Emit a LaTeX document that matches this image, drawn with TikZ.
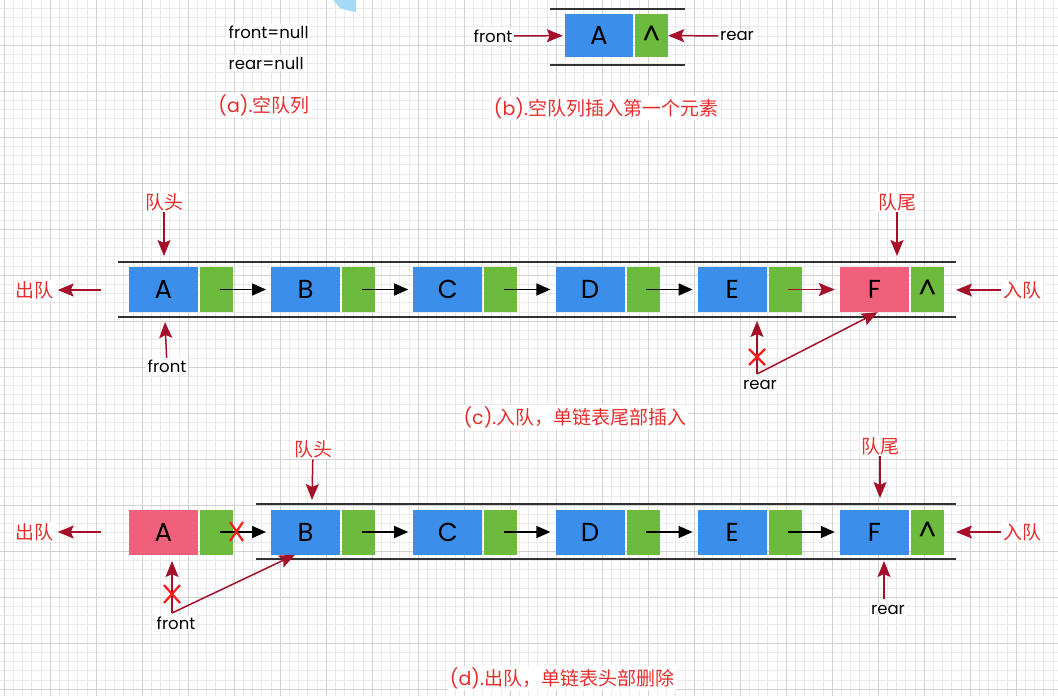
\documentclass[tikz,border=0pt]{standalone}
\usepackage{fontspec}
\setmainfont{Poppins}
\newfontfamily\lat{Poppins}
\newfontfamily\cjk{Noto Sans CJK SC}
\usetikzlibrary{arrows.meta,calc}
\definecolor{qblue}{RGB}{59,142,234}
\definecolor{qgreen}{RGB}{108,187,60}
\definecolor{qpink}{RGB}{240,96,122}
\definecolor{darrow}{RGB}{165,15,40}
\definecolor{tred}{RGB}{232,45,45}
\definecolor{xred}{RGB}{255,25,25}
\definecolor{gminor}{RGB}{234,234,234}
\definecolor{gmajor}{RGB}{210,210,210}
\definecolor{blob}{RGB}{165,218,245}
\definecolor{railc}{RGB}{50,50,50}
\begin{document}
\begin{tikzpicture}[x=1pt,y=-1pt,
 databox/.style={minimum width=69pt,minimum height=45pt,inner sep=0pt,fill=qblue,font=\fontsize{26}{26}\selectfont},
 ptrbox/.style={minimum width=33pt,minimum height=45pt,inner sep=0pt,fill=qgreen,font=\fontsize{28}{28}\selectfont},
 lbl/.style={inner sep=1.5pt,fill=white,font=\fontsize{16.5}{16.5}\selectfont},
 cn/.style={inner sep=1.5pt,fill=white,text=tred,font=\cjk\fontsize{19}{19}\selectfont},
 redarr/.style={draw=darrow,line width=1.5pt,-{Stealth[length=16pt,width=13pt,inset=3pt]}},
 blkarr/.style={draw=black,line width=1.4pt,-{Triangle[length=14pt,width=12pt]}},
 rail/.style={draw=railc,line width=1.7pt},
 xmark/.style={draw=xred,line width=2.2pt}]
\useasboundingbox (0,0) rectangle (1058,696);
\fill[white] (0,0) rectangle (1058,696);
% grid
\foreach \k in {0,...,114} {\pgfmathsetmacro\xx{4+9.2*\k}\draw[gminor,line width=0.6pt] (\xx,0) -- (\xx,696);}
\foreach \k in {1,...,75} {\pgfmathsetmacro\yy{-1+9.2*\k}\draw[gminor,line width=0.6pt] (0,\yy) -- (1058,\yy);}
\foreach \k in {0,...,22} {\pgfmathsetmacro\xx{4+46*\k}\draw[gmajor,line width=0.8pt] (\xx,0) -- (\xx,696);}
\foreach \k in {1,...,15} {\pgfmathsetmacro\yy{-1+46*\k}\draw[gmajor,line width=0.8pt] (0,\yy) -- (1058,\yy);}
\fill[blob] (333,0) -- (356,0) -- (356,12) -- (346,10) -- (340,8) -- cycle;

% (a)
\node[lbl,anchor=west] (fn) at (227,32) {front=null};
\node[lbl,anchor=west] (rn) at (227,63) {rear=null};
\node[cn] (capa) at (264,105) {{\lat (a).}空队列};

% (b)
\draw[rail] (550,9) -- (685,9);
\draw[rail] (550,65) -- (685,65);
\node[databox,minimum width=68pt,minimum height=43pt] (bA) at (599,35.5) {A};
\node[ptrbox,minimum height=43pt] (bP) at (651.5,35.5) {\^{}};
\node[lbl] (bfront) at (493,36) {front};
\node[lbl] (brear) at (737,36) {rear};
\draw[redarr,shorten >=2pt] (bfront) -- (bA);
\draw[redarr] (brear) -- (bP);
\node[cn] (capb) at (606,108) {{\lat (b).}空队列插入第一个元素};

% (c)
\draw[rail] (118,262) -- (956,262);
\draw[rail] (118,317) -- (956,317);
\foreach \i/\t in {1/A,2/B,3/C,4/D,5/E} {
  \node[databox] (c\i) at ({163.5+142.2*(\i-1)},289.5) {\t};
  \node[ptrbox] (cg\i) at ({216.5+142.2*(\i-1)},289.5) {};
}
\node[databox,fill=qpink] (c6) at (874.5,289.5) {F};
\node[ptrbox] (cg6) at (927.5,289.5) {\^{}};
\foreach \i/\j in {1/2,2/3,3/4,4/5} {\draw[blkarr,shorten >=5pt] ($(cg\i.center)+(3,0)$) -- (c\j.west);}
\draw[redarr,shorten >=5pt] ($(cg5.center)+(3,0)$) -- (c6.west);
\node[cn] (chead) at (164,202) {队头};
\coordinate (chT) at (164,256);
\draw[redarr] (chead) -- (chT);
\node[cn] (ctail) at (897,202) {队尾};
\coordinate (ctT) at (897,256);
\draw[redarr] (ctail) -- (ctT);
\node[cn] (cout) at (35,290) {出队};
\coordinate (coS) at (101,290);
\draw[redarr,shorten >=2pt] (coS) -- (cout);
\node[cn] (cin) at (1022,290) {入队};
\coordinate (ciT) at (956,290);
\draw[redarr] (cin) -- (ciT);
\node[lbl] (cfront) at (167,366) {front};
\coordinate (cfT) at (165,322);
\draw[redarr] (cfront) -- (cfT);
\node[lbl] (crear) at (760,385) {rear};
\coordinate (crS) at (757,374);
\coordinate (crT) at (757,321);
\draw[redarr] (crS) -- (crT);
\draw[redarr] (crS) -- (c6.-82);
\draw[xmark] (749,349) -- (765,365) (765,349) -- (749,365);
\node[cn] (capc) at (575,417) {{\lat (c).}入队，单链表尾部插入};

% (d)
\draw[rail] (256,504) -- (956,504);
\draw[rail] (256,559) -- (956,559);
\node[databox,fill=qpink] (d1) at (163.5,532) {A};
\node[ptrbox] (dg1) at (216.5,532) {};
\foreach \i/\t in {2/B,3/C,4/D,5/E} {
  \node[databox] (d\i) at ({163.5+142.2*(\i-1)},532) {\t};
  \node[ptrbox] (dg\i) at ({216.5+142.2*(\i-1)},532) {};
}
\node[databox] (d6) at (874.5,532) {F};
\node[ptrbox] (dg6) at (927.5,532) {\^{}};
\foreach \i/\j in {1/2,2/3,3/4,4/5,5/6} {\draw[blkarr,shorten >=5pt] ($(dg\i.center)+(3,0)$) -- (d\j.west);}
\draw[xmark] (230,522) -- (243,541) (243,522) -- (230,541);
\node[cn] (dhead) at (313,449) {队头};
\coordinate (dhT) at (312,500);
\draw[redarr] (dhead) -- (dhT);
\node[cn] (dtail) at (880,446) {队尾};
\coordinate (dtT) at (880,498);
\draw[redarr] (dtail) -- (dtT);
\node[cn] (dout) at (35,532) {出队};
\coordinate (doS) at (101,532);
\draw[redarr,shorten >=2pt] (doS) -- (dout);
\node[cn] (din) at (1022,532) {入队};
\coordinate (diT) at (956,532);
\draw[redarr] (din) -- (diT);
\node[lbl] (dfront) at (176,623) {front};
\coordinate (dfS) at (172,613);
\coordinate (dfT) at (172,561);
\draw[redarr] (dfS) -- (dfT);
\draw[redarr] (dfS) -- (d2.-115);
\draw[xmark] (164,585) -- (180,603) (180,585) -- (164,603);
\node[lbl] (drear) at (888,610) {rear};
\coordinate (drS) at (884,599);
\coordinate (drT) at (884,561);
\draw[redarr] (drS) -- (drT);
\node[cn] (capd) at (562,678) {{\lat (d).}出队，单链表头部删除};
\end{tikzpicture}
\end{document}
